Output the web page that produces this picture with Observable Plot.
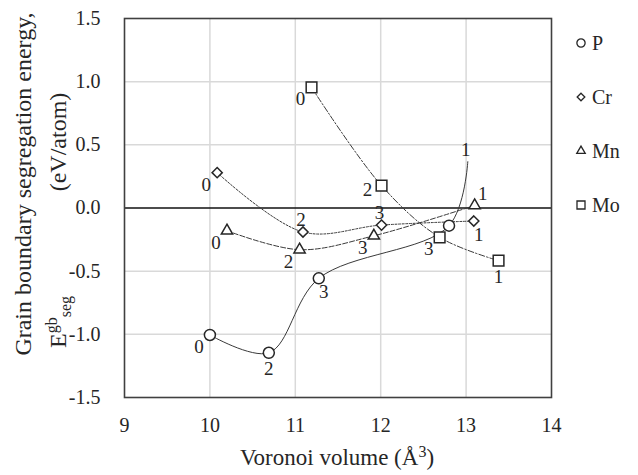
<!DOCTYPE html>
<html>
<head>
<meta charset="utf-8">
<script src="https://cdn.jsdelivr.net/npm/d3@7"></script>
<script src="https://cdn.jsdelivr.net/npm/@observablehq/plot@0.6"></script>
<style>
  html, body { margin: 0; padding: 0; background: white; }
</style>
</head>
<body>
<div id="chart"></div>
<script>
// ---- data ----
const seriesNames = ["P", "Cr", "Mn", "Mo"];

const pX = [10.0, 10.69, 11.275, 12.80, 13.02];
const pY = [-1.005, -1.146, -0.557, -0.14, 0.367];
const pLabels = ["0", "2", "3", "", "1"];
const pPlace = ["bl", "b", "br", "", "t"];
const pMarker = [true, true, true, true, false];

const crX = [10.085, 11.09, 12.01, 13.09];
const crY = [0.28, -0.19, -0.135, -0.103];
const crLabels = ["0", "2", "3", "1"];
const crPlace = ["bl", "t", "t", "br"];

const mnX = [10.2, 11.05, 11.92, 13.1];
const mnY = [-0.18, -0.33, -0.22, 0.02];
const mnLabels = ["0", "2", "3", "1"];
const mnPlace = ["bl", "bl", "bl", "tr"];

const moX = [11.19, 12.01, 12.69, 13.38];
const moY = [0.955, 0.177, -0.232, -0.417];
const moLabels = ["0", "2", "3", "1"];
const moPlace = ["bl", "l", "bl", "b"];

const xTicks = [9, 10, 11, 12, 13, 14];
const xTickLabels = ["9", "10", "11", "12", "13", "14"];
const yTicks = [-1.5, -1.0, -0.5, 0.0, 0.5, 1.0, 1.5];
const yTickLabels = ["-1.5", "-1.0", "-0.5", "0.0", "0.5", "1.0", "1.5"];

// ---- build table ----
function rows(name, xs, ys, labs, places, markers) {
  return xs.map((x, i) => ({
    s: name, x, y: ys[i], lab: labs[i], place: places[i],
    marker: markers ? markers[i] : true
  }));
}
const data = [
  ...rows("P", pX, pY, pLabels, pPlace, pMarker),
  ...rows("Cr", crX, crY, crLabels, crPlace),
  ...rows("Mn", mnX, mnY, mnLabels, mnPlace),
  ...rows("Mo", moX, moY, moLabels, moPlace)
];

const style = {
  P: {symbol: "circle", r: 5.5, dash: null},
  Cr: {symbol: "diamond2", r: 4.6, dash: "2,1.6"},
  Mn: {symbol: "triangle2", r: 5.4, dash: "5,2"},
  Mo: {symbol: "square2", r: 6.8, dash: "6,2,1.5,2"}
};
const offsets = {
  bl: [-11, 12], b: [0, 16], br: [5, 14], t: [-2, -12], tr: [8, -12], l: [-14, 4]
};

const ink = "#262626";
const font = "Liberation Serif, Times New Roman, serif";
const marks = [
  Plot.gridX(xTicks.slice(1, -1), {stroke: "#d9d9d9", strokeOpacity: 1, strokeWidth: 1.5}),
  Plot.gridY(yTicks.filter(d => d !== 0 && Math.abs(d) !== 1.5), {stroke: "#d9d9d9", strokeOpacity: 1, strokeWidth: 1.5}),
  Plot.ruleY([0], {stroke: "#111", strokeWidth: 1.5}),
  Plot.frame({stroke: "#404040", strokeWidth: 1.6}),
  Plot.axisX(xTicks, {tickSize: 0, tickPadding: 20, fontSize: 20, tickFormat: d => xTickLabels[xTicks.indexOf(d)], label: null}),
  Plot.axisY(yTicks, {tickSize: 0, tickPadding: 24, fontSize: 20, tickFormat: d => yTickLabels[yTicks.indexOf(d)], label: null})
];
for (const s of seriesNames) {
  const d = data.filter(r => r.s === s);
  marks.push(Plot.line(d, {x: "x", y: "y", curve: "catmull-rom", stroke: "#3a3a3a", strokeWidth: 1, strokeDasharray: style[s].dash}));
}
for (const s of seriesNames) {
  const d = data.filter(r => r.s === s && r.marker);
  marks.push(Plot.dot(d, {x: "x", y: "y", symbol: style[s].symbol, r: style[s].r, fill: "white", stroke: ink, strokeWidth: 1.5}));
}
for (const k of Object.keys(offsets)) {
  const d = data.filter(r => r.place === k && r.lab !== "");
  marks.push(Plot.text(d, {x: "x", y: "y", text: "lab", dx: offsets[k][0], dy: offsets[k][1], fontSize: 19, fill: ink}));
}

const svg = Plot.plot({
  width: 638,
  height: 475,
  marginLeft: 124,
  marginRight: 87,
  marginTop: 18,
  marginBottom: 78,
  x: {domain: [9, 14]},
  y: {domain: [-1.5, 1.5]},
  style: {fontFamily: font, fontSize: "20px", color: ink, background: "white"},
  marks
});

const g = d3.select(svg);

// y-axis title (two lines)
g.append("text")
  .attr("transform", "translate(31,184) rotate(-90)")
  .attr("text-anchor", "middle")
  .attr("font-family", font).attr("font-size", 24).attr("fill", ink)
  .text("Grain boundary segregation energy,");
const t2 = g.append("text")
  .attr("transform", "translate(66,348) rotate(-90)")
  .attr("text-anchor", "start")
  .attr("font-family", font).attr("font-size", 24).attr("fill", ink);
t2.append("tspan").text("E");
t2.append("tspan").attr("font-size", 16).attr("dy", -9).text("gb");
t2.append("tspan").attr("font-size", 16).attr("dy", 14).text("seg");
g.append("text")
  .attr("transform", "translate(66,142) rotate(-90)")
  .attr("text-anchor", "middle")
  .attr("font-family", font).attr("font-size", 24).attr("fill", ink)
  .text("(eV/atom)");

// x-axis title
const tx = g.append("text")
  .attr("x", 337).attr("y", 465)
  .attr("text-anchor", "middle")
  .attr("font-family", font).attr("font-size", 23).attr("fill", ink);
tx.append("tspan").text("Voronoi volume (Å");
tx.append("tspan").attr("font-size", 16).attr("dy", -8).text("3");
tx.append("tspan").attr("dy", 8).text(")");

// legend
seriesNames.forEach((s, i) => {
  const y = 43 + i * 54;
  const sym = {circle: d3.symbolCircle, diamond2: d3.symbolDiamond2, triangle2: d3.symbolTriangle2, square2: d3.symbolSquare2}[style[s].symbol];
  const rr = style[s].r * 0.75;
  g.append("path")
    .attr("transform", `translate(581,${y})`)
    .attr("d", d3.symbol(sym, Math.PI * rr * rr)())
    .attr("fill", "white").attr("stroke", ink).attr("stroke-width", 1.3);
  g.append("text")
    .attr("x", 592).attr("y", y + 7)
    .attr("text-anchor", "start")
    .attr("font-family", font).attr("font-size", 20).attr("fill", ink)
    .text(s);
});

document.getElementById("chart").appendChild(svg);
</script>
</body>
</html>
